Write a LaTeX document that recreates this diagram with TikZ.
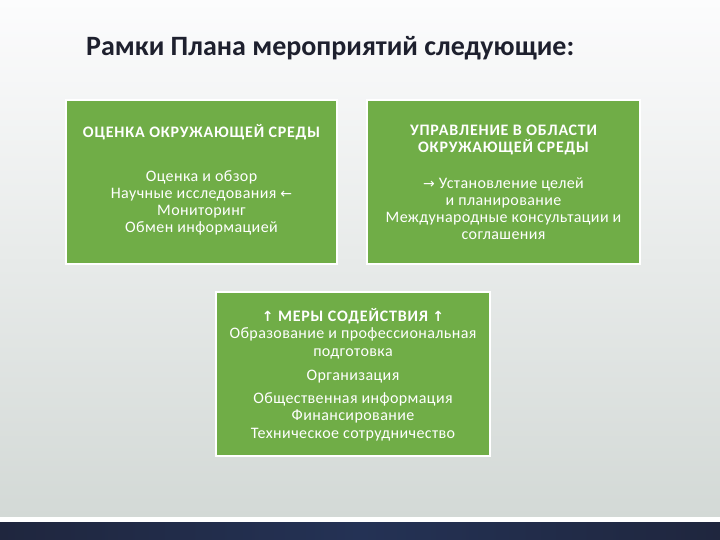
\documentclass[tikz,border=0pt]{standalone}
\usepackage{fontspec}
\setmainfont{Carlito}
\newfontfamily\arrowfont{DejaVu Sans}
\newfontfamily\bodyfont[LetterSpace=2.5]{Carlito}
\newfontfamily\headfont[LetterSpace=5]{Carlito}
\definecolor{boxgreen}{RGB}{112,173,71}
\definecolor{titlecol}{RGB}{30,32,46}
\definecolor{bgtop}{RGB}{252,252,253}
\definecolor{bgbot}{RGB}{211,217,214}
\definecolor{navy}{RGB}{31,38,62}
\definecolor{navymid}{RGB}{36,50,85}
\newcommand{\arr}[1]{{\arrowfont\fontsize{14}{13}\selectfont #1}}
\begin{document}
\begin{tikzpicture}[x=1pt,y=-1pt,
  gbox/.style={fill=boxgreen,draw=white,line width=1.5pt},
  txt/.style={text=white,align=center,font=\bodyfont\fontsize{16}{17.3}\selectfont},
  head/.style={text=white,align=center,font=\headfont\bfseries\fontsize{16}{17}\selectfont}]
\useasboundingbox (0,0) rectangle (720,540);
\shade[top color=bgtop,bottom color=bgbot] (0,0) rectangle (720,517);
\fill[white] (0,517) rectangle (720,522);
\shade[left color=navy,right color=navy,middle color=navymid] (0,522) rectangle (720,540);
\node[anchor=base west,text=titlecol,font=\bfseries\fontsize{28}{32}\selectfont,inner sep=0pt] (title) at (86,56) {Рамки Плана мероприятий следующие:};
% box 1
\draw[gbox] (66,100) rectangle (337,264);
\node[head,anchor=base] (h1) at (201.5,138) {ОЦЕНКА ОКРУЖАЮЩЕЙ СРЕДЫ};
\node[txt,anchor=base] (b1) at (201.5,233) {Оценка и обзор\\Научные исследования \arr{←}\\Мониторинг\\Обмен информацией};
% box 2
\draw[gbox] (367,100) rectangle (640,264);
\node[head,anchor=base] (h2) at (503.5,153) {УПРАВЛЕНИЕ В ОБЛАСТИ\\ОКРУЖАЮЩЕЙ СРЕДЫ};
\node[txt,anchor=base] (b2) at (503.5,240) {\arr{→} Установление целей\\и планирование\\Международные консультации и\\соглашения};
% box 3
\draw[gbox] (216,292) rectangle (490,456);
\node[head,anchor=base] (h3) at (353,321) {\arr{↑} МЕРЫ СОДЕЙСТВИЯ \arr{↑}};
\node[txt,anchor=base] (b3a) at (353,356) {Образование и профессиональная\\подготовка};
\node[txt,anchor=base] (b3b) at (353,380) {Организация};
\node[txt,anchor=base] (b3c) at (353,438) {Общественная информация\\Финансирование\\Техническое сотрудничество};
\end{tikzpicture}
\end{document}
